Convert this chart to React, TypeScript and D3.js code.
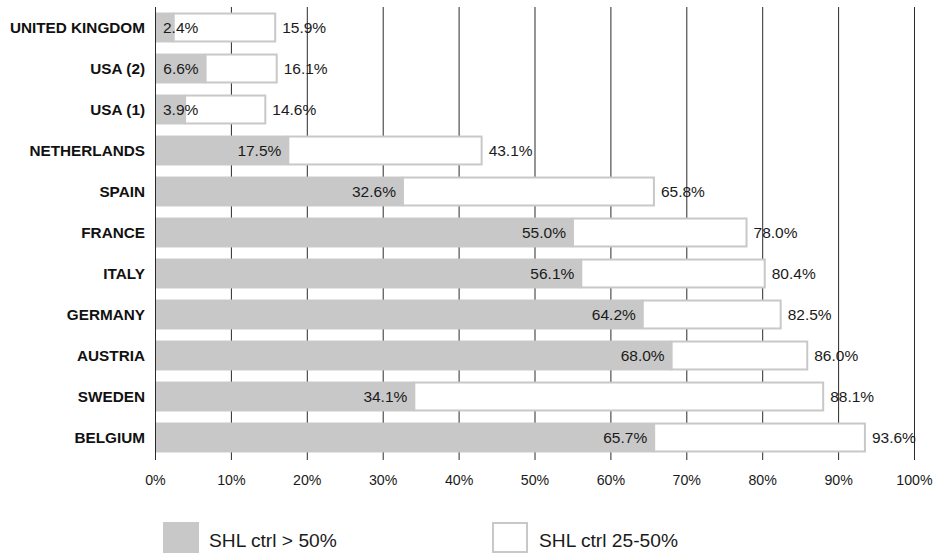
import React from "react";
import * as d3 from "d3";

const categories = ["UNITED KINGDOM", "USA (2)", "USA (1)", "NETHERLANDS", "SPAIN", "FRANCE", "ITALY", "GERMANY", "AUSTRIA", "SWEDEN", "BELGIUM"];
const ctrlAbove50 = [2.4, 6.6, 3.9, 17.5, 32.6, 55.0, 56.1, 64.2, 68.0, 34.1, 65.7];
const ctrl25to50Total = [15.9, 16.1, 14.6, 43.1, 65.8, 78.0, 80.4, 82.5, 86.0, 88.1, 93.6];
const xTicks = [0, 10, 20, 30, 40, 50, 60, 70, 80, 90, 100];
const legendLabels = ["SHL ctrl > 50%", "SHL ctrl 25-50%"];

const W = 936;
const H = 554;
const FONT = "Arial, 'Liberation Sans', Helvetica, sans-serif";
const GRAY = "#c8c8c8";

export default function App() {
  const x = d3.scaleLinear().domain([0, 100]).range([155.5, 914.5]);
  const y = d3.scaleBand<string>().domain(categories).range([7, 458]).paddingInner(0.27).paddingOuter(0.135);
  const bw = y.bandwidth();
  const fmt = (v: number) => v.toFixed(1) + "%";
  const LS = 15.5;
  const approxW = (s: string, size: number) => {
    let w = 0;
    for (const c of s) w += c === "." ? 0.278 : c === "%" ? 0.889 : 0.556;
    return w * size;
  };

  return (
    <svg width={W} height={H} style={{ position: "absolute", left: 0, top: 0, background: "#fff" }} fontFamily={FONT}>
      {xTicks.map((t) => (
        <line key={"g" + t} x1={x(t)} x2={x(t)} y1={7} y2={460} stroke="#2a2a2a" strokeWidth={1} />
      ))}
      {categories.map((c, i) => {
        const y0 = y(c)!;
        const g = ctrlAbove50[i];
        const tot = ctrl25to50Total[i];
        const gLabel = fmt(g);
        const lw = approxW(gLabel, LS);
        let lx = x(g) - 7 - lw;
        if (lx < x(0) + 7.5) lx = x(0) + 7.5;
        return (
          <g key={c}>
            <rect x={x(g)} y={y0 + 1} width={x(tot) - x(g) - 1} height={bw - 2} fill="#fff" stroke={GRAY} strokeWidth={2} />
            <rect x={x(0) + 0.5} y={y0} width={x(g) - x(0) - 0.5} height={bw} fill={GRAY} />
            <text x={lx} y={y0 + bw / 2 + 5.5} fontSize={LS} fill="#1a1a1a">{gLabel}</text>
            <text x={x(tot) + 6} y={y0 + bw / 2 + 5.5} fontSize={LS} fill="#1a1a1a">{fmt(tot)}</text>
            <text x={145} y={y0 + bw / 2 + 5.5} fontSize={15.3} fontWeight="bold" textAnchor="end" fill="#111">{c}</text>
          </g>
        );
      })}
      {xTicks.map((t) => (
        <text key={"t" + t} x={x(t)} y={485} fontSize={14.2} textAnchor="middle" fill="#1a1a1a">{t + "%"}</text>
      ))}
      <rect x={163} y={522} width={36} height={31} fill={GRAY} />
      <text x={209} y={547} fontSize={19.2} fill="#1a1a1a">{legendLabels[0]}</text>
      <rect x={493} y={523} width={34} height={29} fill="#fff" stroke={GRAY} strokeWidth={2} />
      <text x={539} y={547} fontSize={19.2} fill="#1a1a1a">{legendLabels[1]}</text>
    </svg>
  );
}
